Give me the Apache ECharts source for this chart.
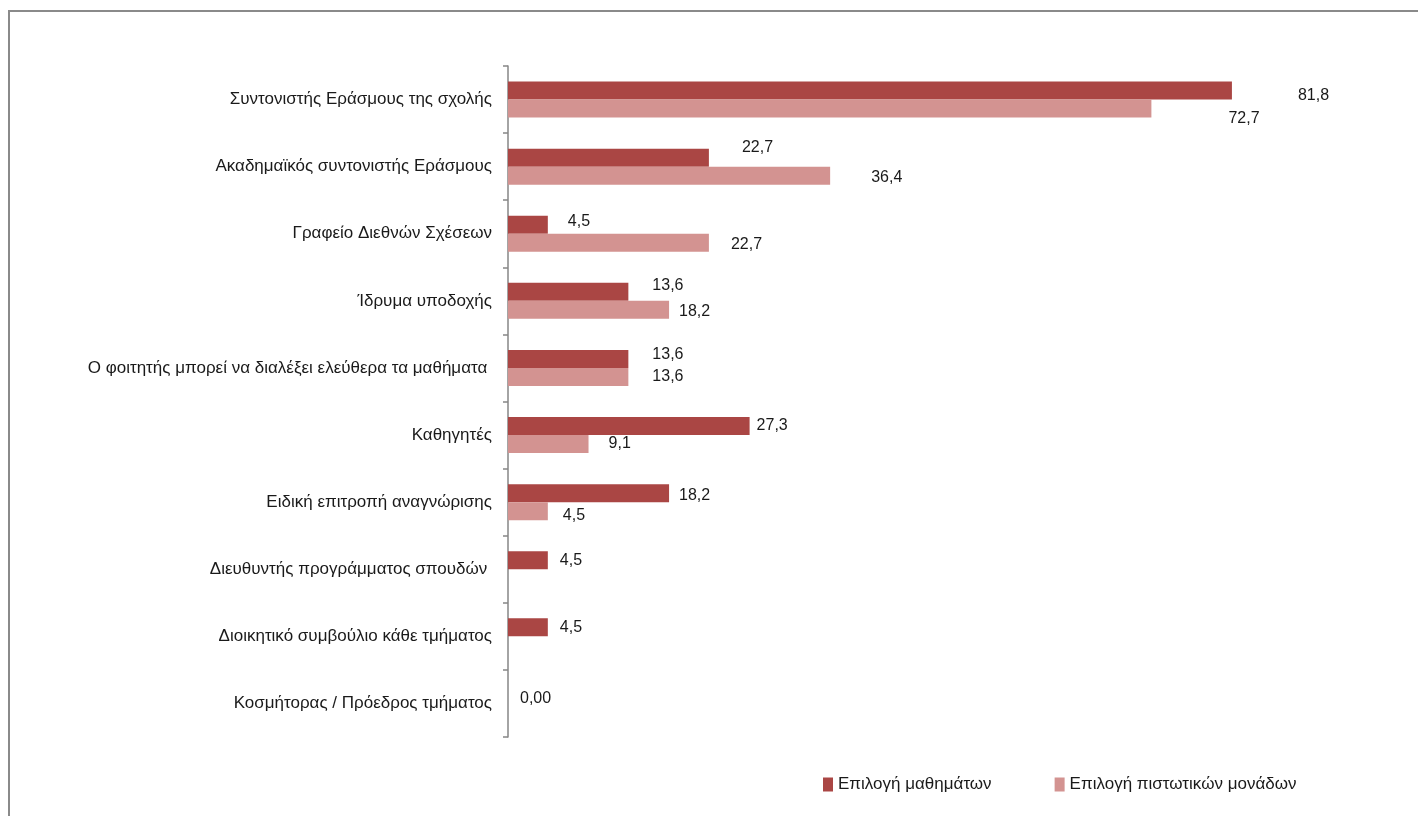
<!DOCTYPE html>
<html>
<head>
<meta charset="utf-8">
<script src="https://cdn.jsdelivr.net/npm/echarts@6/dist/echarts.min.js"></script>
<style>
  html, body { margin: 0; padding: 0; background: #fff; }
  #chart { width: 1418px; height: 816px; }
</style>
</head>
<body>
<div id="chart"></div>
<script>
const categories = [
  'Συντονιστής Εράσμους της σχολής',
  'Ακαδημαϊκός συντονιστής Εράσμους',
  'Γραφείο Διεθνών Σχέσεων',
  'Ίδρυμα υποδοχής',
  'Ο φοιτητής μπορεί να διαλέξει ελεύθερα τα μαθήματα ',
  'Καθηγητές',
  'Ειδική επιτροπή αναγνώρισης',
  'Διευθυντής προγράμματος σπουδών ',
  'Διοικητικό συμβούλιο κάθε τμήματος',
  'Κοσμήτορας / Πρόεδρος τμήματος'
]
const seriesNames = ['Επιλογή μαθημάτων', 'Επιλογή πιστωτικών μονάδων']
const courses = [81.8, 22.7, 4.5, 13.6, 13.6, 27.3, 18.2, 4.5, 4.5, 0]
const credits = [72.7, 36.4, 22.7, 18.2, 13.6, 9.1, 4.5, null, null, null]

// label placement, as in the original (gap after bar end, vertical shift)
const coursesLabelGap = [66, 33, 20, 24, 24, 7, 10, 12, 12, 12]
const coursesLabelDy = [5, -10, -3, -6, -4, 0, 2, 0, 0, 4]
const creditsLabelGap = [77, 41, 22, 10, 24, 20, 15, 0, 0, 0]
const creditsLabelDy = [10, 2, 2, 2, 0, 0, 4, 0, 0, 0]

const fmt = v => (v === 0 ? '0,00' : String(v).replace('.', ','))

function items (values, gaps, dys) {
  return values.map((v, i) => ({
    value: v,
    label: { distance: gaps[i], offset: [0, dys[i]] }
  }))
}

const chart = echarts.init(document.getElementById('chart'), null, { renderer: 'canvas' })

const font = 'Liberation Sans'
const ink = '#1a1a1a'

chart.setOption({
  animation: false,
  backgroundColor: '#fff',
  textStyle: { fontFamily: font },
  graphic: [{
    type: 'rect',
    shape: { x: 9, y: 11, width: 1440, height: 840 },
    style: { fill: 'none', stroke: '#8a8a8a', lineWidth: 2 },
    silent: true
  }],
  grid: { left: 508, right: 25, top: 66, bottom: 79, containLabel: false },
  legend: {
    left: 818,
    top: 771,
    itemWidth: 10,
    itemHeight: 14,
    itemGap: 63,
    icon: 'rect',
    textStyle: { fontFamily: font, fontSize: 17, color: ink },
    data: seriesNames
  },
  xAxis: {
    type: 'value',
    min: 0,
    max: 100,
    show: false
  },
  yAxis: {
    type: 'category',
    inverse: true,
    data: categories,
    axisLine: { lineStyle: { color: '#868686', width: 1.5 } },
    axisTick: { show: true, length: 5, lineStyle: { color: '#868686', width: 1.5 } },
    axisLabel: { margin: 16, fontFamily: font, fontSize: 17, color: ink }
  },
  series: [
    {
      name: seriesNames[0],
      type: 'bar',
      barWidth: 18,
      barGap: '0%',
      itemStyle: { color: '#AA4644' },
      label: {
        show: true,
        position: 'right',
        fontFamily: font,
        fontSize: 16,
        color: ink,
        formatter: p => fmt(p.value)
      },
      data: items(courses, coursesLabelGap, coursesLabelDy)
    },
    {
      name: seriesNames[1],
      type: 'bar',
      barWidth: 18,
      barGap: '0%',
      itemStyle: { color: '#D39391' },
      label: {
        show: true,
        position: 'right',
        fontFamily: font,
        fontSize: 16,
        color: ink,
        formatter: p => (p.value == null ? '' : fmt(p.value))
      },
      data: items(credits, creditsLabelGap, creditsLabelDy)
    }
  ]
})

window.addEventListener('resize', () => chart.resize())
</script>
</body>
</html>
